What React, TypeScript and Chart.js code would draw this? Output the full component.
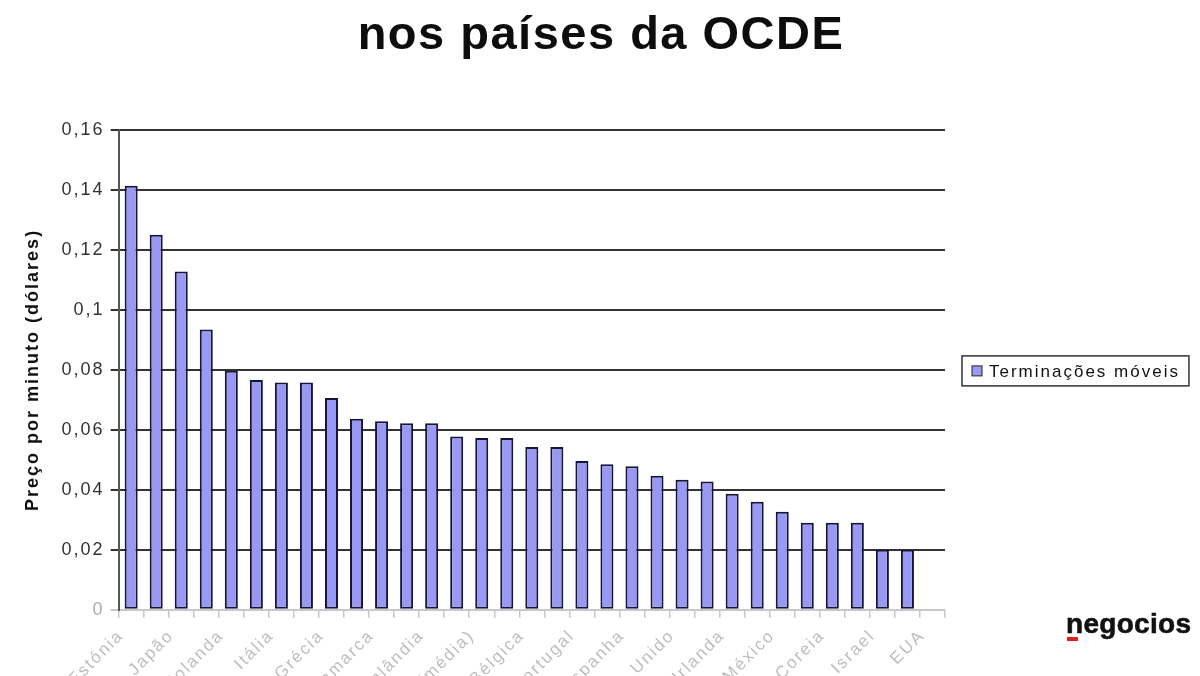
import React, { useEffect, useRef } from 'react';
import { Chart, registerables } from 'chart.js';

Chart.register(...registerables);

const titleText = 'nos países da OCDE';
const yAxisTitle = 'Preço por minuto (dólares)';
const seriesName = 'Terminações móveis';

// Only every other category label is legible in the source
const categories = [
  'Estónia', '', 'Japão', '', 'Holanda', '', 'Itália', '', 'Grécia', '',
  'Dinamarca', '', 'Finlândia', '', 'OCDE (média)', '', 'Bélgica', '',
  'Portugal', '', 'Espanha', '', 'Reino Unido', '', 'Irlanda', '', 'México',
  '', 'Coreia', '', 'Israel', '', 'EUA',
];

const values = [
  0.1414, 0.1251, 0.1128, 0.0935, 0.0797, 0.0766, 0.0758, 0.0758, 0.0706,
  0.0637, 0.0629, 0.0622, 0.0622, 0.0578, 0.0573, 0.0573, 0.0543, 0.0543,
  0.0496, 0.0485, 0.0479, 0.0447, 0.0434, 0.0428, 0.0387, 0.036, 0.0327,
  0.029, 0.029, 0.029, 0.02, 0.02, 0,
];

const yMin = 0;
const yMax = 0.16;
const yStep = 0.02;

const FONT = '"Liberation Sans", Arial, Helvetica, sans-serif';
const SPACING = '2px';

const spacingPlugin = {
  id: 'letterSpacing',
  afterInit(chart: any) { chart.ctx.letterSpacing = SPACING; },
  beforeUpdate(chart: any) { chart.ctx.letterSpacing = SPACING; },
  beforeDraw(chart: any) { chart.ctx.letterSpacing = SPACING; },
};

// Title centred on the whole canvas (the legend sits to the right of the plot)
const pageTitlePlugin = {
  id: 'pageTitle',
  afterDraw(chart: any) {
    const ctx = chart.ctx;
    ctx.save();
    ctx.letterSpacing = '1.5px';
    ctx.font = `bold 47px ${FONT}`;
    ctx.fillStyle = '#0d0d0d';
    ctx.textAlign = 'center';
    ctx.textBaseline = 'alphabetic';
    ctx.fillText(titleText, chart.width / 2 + 1, 49);
    ctx.restore();
  },
};

const boxLegendPlugin = {
  id: 'boxLegend',
  afterDraw(chart: any) {
    const { ctx, chartArea } = chart;
    const ds = chart.data.datasets[0];
    ctx.save();
    ctx.letterSpacing = SPACING;
    ctx.font = `17px ${FONT}`;
    const tw = ctx.measureText(ds.label).width;
    const h = 30;
    const w = tw + 36;
    const x = chartArea.right + 17;
    const y = (chartArea.top + chartArea.bottom) / 2 - h / 2 + 1;
    ctx.fillStyle = '#fff';
    ctx.fillRect(x, y, w, h);
    ctx.strokeStyle = '#333';
    ctx.lineWidth = 1.5;
    ctx.strokeRect(x, y, w, h);
    ctx.fillStyle = ds.backgroundColor;
    ctx.fillRect(x + 10, y + h / 2 - 5, 10, 10);
    ctx.strokeStyle = '#222';
    ctx.lineWidth = 1;
    ctx.strokeRect(x + 10, y + h / 2 - 5, 10, 10);
    ctx.fillStyle = '#111';
    ctx.textBaseline = 'middle';
    ctx.textAlign = 'left';
    ctx.fillText(ds.label, x + 27, y + h / 2 + 1);
    ctx.restore();
  },
};

export default function App() {
  const canvasRef = useRef<HTMLCanvasElement | null>(null);

  useEffect(() => {
    document.body.style.margin = '0';
    const canvas = canvasRef.current;
    if (!canvas) return;
    Chart.defaults.font.family = FONT;
    const chart = new Chart(canvas, {
      type: 'bar',
      data: {
        labels: categories,
        datasets: [
          {
            label: seriesName,
            data: values,
            backgroundColor: '#9999f4',
            borderColor: '#15153a',
            borderWidth: 2,
            borderSkipped: false,
            barPercentage: 0.52,
            categoryPercentage: 1,
          },
        ],
      },
      options: {
        responsive: false,
        animation: false,
        devicePixelRatio: 1,
        layout: { padding: { left: 10, right: 255, top: 130, bottom: 4 } },
        plugins: {
          legend: { display: false },
          tooltip: { enabled: false },
          title: { display: false },
        },
        scales: {
          x: {
            grid: {
              display: true,
              drawOnChartArea: false,
              drawTicks: true,
              tickLength: 8,
              color: '#c8c8c8',
              lineWidth: 1.5,
            },
            border: { display: true, color: '#c8c8c8', width: 2 },
            ticks: {
              autoSkip: false,
              minRotation: 45,
              maxRotation: 45,
              padding: 8,
              labelOffset: -10,
              color: '#bdbdbd',
              font: { size: 17, family: FONT },
            },
          },
          y: {
            min: yMin,
            max: yMax,
            grid: {
              color: (c: any) => (c.tick && c.tick.value === 0 ? '#c8c8c8' : '#333'),
              lineWidth: 2,
              tickLength: 8,
              drawTicks: true,
            },
            border: { display: true, color: '#555', width: 2 },
            ticks: {
              stepSize: yStep,
              padding: 6,
              color: (c: any) => (c.tick && c.tick.value === 0 ? '#aaa' : '#333'),
              font: { size: 18, family: FONT },
              callback: (v: any) => String(Number(Number(v).toFixed(2))).replace('.', ','),
            },
            title: {
              display: true,
              text: yAxisTitle,
              color: '#111',
              font: { size: 18, weight: 'bold', family: FONT },
              padding: { top: 12, bottom: 12 },
            },
          },
        },
      },
      plugins: [spacingPlugin, pageTitlePlugin, boxLegendPlugin],
    });
    return () => chart.destroy();
  }, []);

  return (
    <div
      style={{
        position: 'fixed',
        left: 0,
        top: 0,
        width: 1200,
        height: 676,
        overflow: 'hidden',
        background: '#fff',
      }}
    >
      <canvas ref={canvasRef} width={1200} height={748} style={{ display: 'block' }} />
      <div
        style={{
          position: 'absolute',
          left: 1066,
          top: 609,
          fontFamily: FONT,
          fontWeight: 'bold',
          fontSize: 28,
          letterSpacing: '0.3px',
          color: '#111',
          lineHeight: '30px',
          WebkitTextStroke: '0.6px #111',
        }}
      >
        negocios
      </div>
      <div
        style={{
          position: 'absolute',
          left: 1067,
          top: 637,
          width: 11,
          height: 4,
          background: '#e0201b',
        }}
      />
    </div>
  );
}
